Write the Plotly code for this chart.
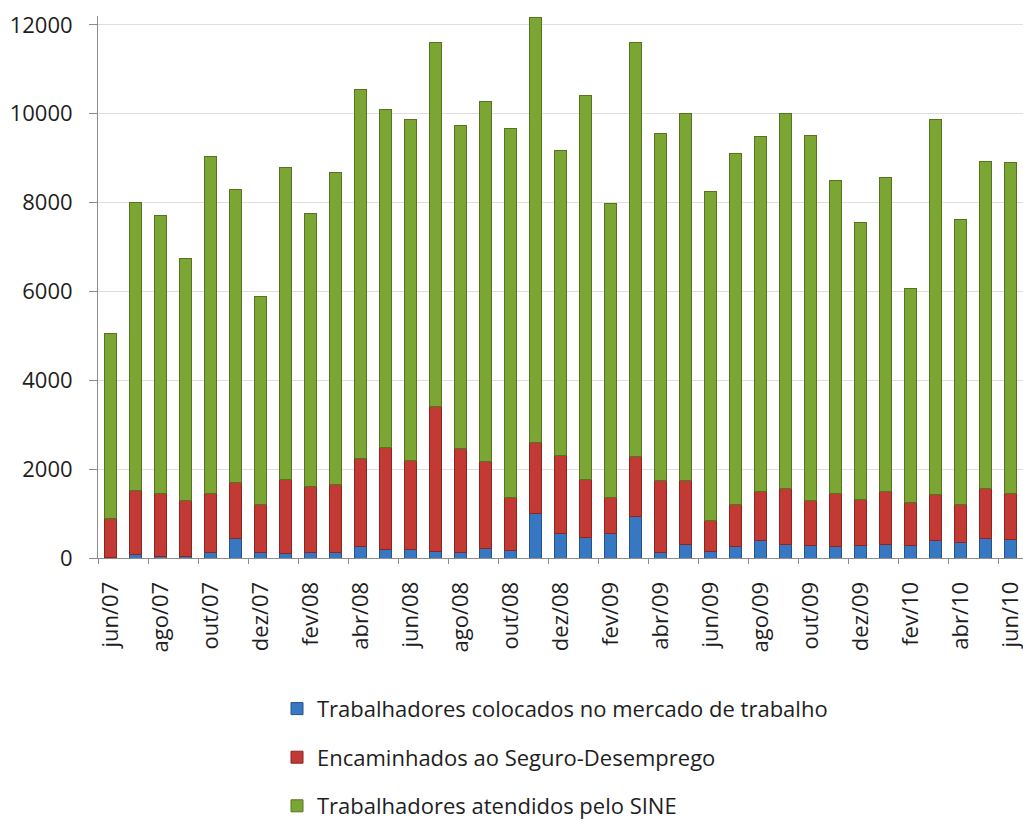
import plotly.graph_objects as go

# Months from jun/2007 to jun/2010
meses = [
    "jun/07", "jul/07", "ago/07", "set/07", "out/07", "nov/07", "dez/07",
    "jan/08", "fev/08", "mar/08", "abr/08", "mai/08", "jun/08", "jul/08",
    "ago/08", "set/08", "out/08", "nov/08", "dez/08",
    "jan/09", "fev/09", "mar/09", "abr/09", "mai/09", "jun/09", "jul/09",
    "ago/09", "set/09", "out/09", "nov/09", "dez/09",
    "jan/10", "fev/10", "mar/10", "abr/10", "mai/10", "jun/10",
]

# Stacked segment values per month
colocados = [
    20, 70, 40, 40, 125, 450, 125,
    100, 125, 125, 250, 200, 200, 140,
    120, 225, 165, 1000, 550,
    460, 545, 935, 120, 310, 140, 250,
    390, 310, 285, 250, 285,
    310, 285, 390, 350, 450, 420,
]
encaminhados = [
    860, 1450, 1415, 1255, 1330, 1255, 1085,
    1670, 1495, 1520, 1980, 2280, 2005, 3260,
    2335, 1940, 1205, 1590, 1765,
    1310, 825, 1355, 1625, 1435, 710, 960,
    1115, 1250, 1000, 1205, 1025,
    1195, 960, 1030, 860, 1110, 1035,
]
atendidos = [
    4165, 6490, 6260, 5445, 7590, 6580, 4685,
    7030, 6145, 7025, 8310, 7625, 7660, 8200,
    7290, 8100, 8290, 9575, 6865,
    8645, 6615, 9310, 7815, 8255, 7410, 7895,
    7980, 8440, 8220, 7045, 6240,
    7070, 4820, 8450, 6415, 7375, 7455,
]

y_ticks = [0, 2000, 4000, 6000, 8000, 10000, 12000]

series = [
    ("Trabalhadores colocados no mercado de trabalho", colocados, "#3878c2", "#24528a"),
    ("Encaminhados ao Seguro-Desemprego", encaminhados, "#c33a34", "#8a2522"),
    ("Trabalhadores atendidos pelo SINE", atendidos, "#7ca634", "#56741f"),
]

fig = go.Figure()
for i, (nome, valores, cor, borda) in enumerate(series):
    fig.add_trace(go.Bar(
        x=meses, y=valores, name=nome, legendgroup=str(i),
        marker=dict(color=cor, line=dict(color=borda, width=1)),
    ))

font_family = "Open Sans, sans-serif"
fig.update_layout(
    width=1023, height=821,
    barmode="stack", bargap=0.55,
    plot_bgcolor="white", paper_bgcolor="white",
    margin=dict(l=98, r=0, t=16, b=263, autoexpand=False),
    font=dict(family=font_family, color="#1e1e1e"),
    showlegend=True,
    legend=dict(
        orientation="v", traceorder="grouped", tracegroupgap=17,
        x=(277 - 98) / 925, xanchor="left",
        y=-0.2395, yanchor="top",
        font=dict(size=22, family=font_family, color="#1e1e1e"),
        itemclick=False,
    ),
)
fig.update_xaxes(
    type="category", dtick=2, tickangle=-90, tickson="boundaries",
    ticks="outside", ticklen=5, tickcolor="#8c8c8c",
    showline=True, linecolor="#8c8c8c", linewidth=1,
    showgrid=False, ticklabelstandoff=14, automargin=False,
    tickfont=dict(size=22, family=font_family, color="#1e1e1e"),
)
fig.update_yaxes(
    range=[0, 12200], tickvals=y_ticks, ticktext=[str(v) for v in y_ticks],
    ticks="outside", ticklen=8, tickcolor="#8c8c8c",
    showline=True, linecolor="#8c8c8c", linewidth=1,
    showgrid=True, gridcolor="#dedede", gridwidth=1,
    zeroline=False, ticklabelstandoff=12, automargin=False,
    tickfont=dict(size=22, family=font_family, color="#1e1e1e"),
)

fig.write_html("out.html")
